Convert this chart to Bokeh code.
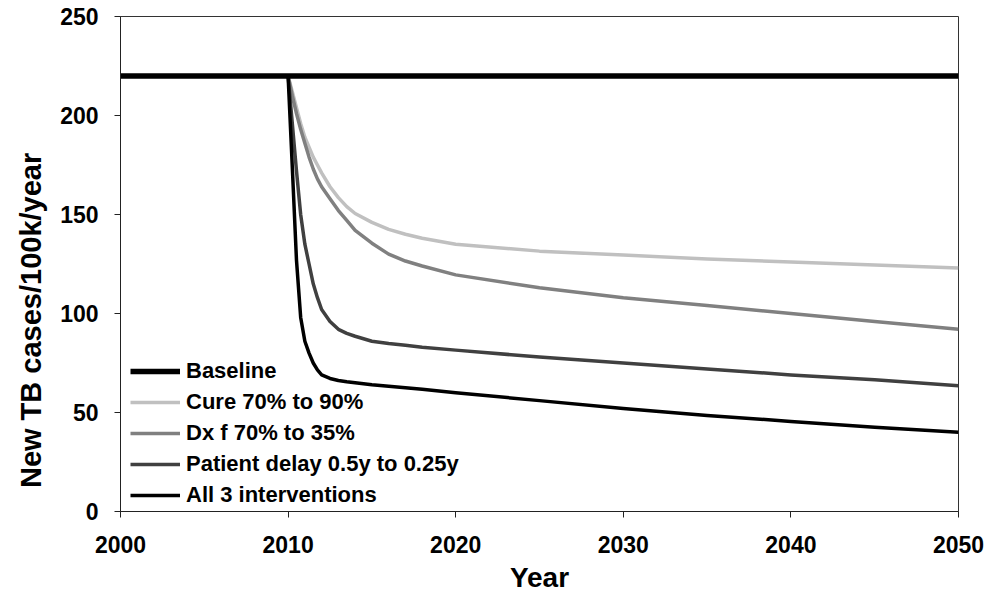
from bokeh.plotting import figure
from bokeh.models import Legend, LegendItem, FixedTicker, Range1d
from bokeh.embed import file_html
from bokeh.resources import INLINE

# Projected TB incidence (new cases per 100k per year) under each scenario
years = [2000, 2010, 2010.25, 2010.5, 2010.75, 2011, 2011.25, 2011.5, 2011.75, 2012,
         2012.5, 2013, 2013.5, 2014, 2015, 2016, 2017, 2018, 2020, 2025,
         2030, 2035, 2040, 2045, 2050]

baseline = [220] * len(years)
cure_70_to_90 = [220, 220, 212, 204, 196, 189, 184, 179, 175, 171,
                 164, 158.5, 154, 150.5, 146, 142.5, 140, 138, 135, 131.5,
                 129.5, 127.5, 126, 124.5, 123]
dx_70_to_35 = [220, 220, 210, 201, 193, 186, 179, 173, 168, 164,
               158, 152, 147, 142, 135.5, 130, 126.5, 124, 119.5, 113,
               108, 104, 100, 96, 92]
patient_delay = [220, 220, 196, 172, 150, 135, 125, 115, 108, 102,
                 96, 92, 90, 88.5, 86, 84.8, 84, 83, 81.5, 78,
                 75, 72, 69, 66.5, 63.5]
all_three = [220, 220, 174, 127, 98, 86, 80, 75, 71.5, 69,
             67.2, 66.2, 65.5, 65, 64, 63.3, 62.5, 61.7, 60, 56,
             52, 48.5, 45.5, 42.5, 40]

x_ticks = [2000, 2010, 2020, 2030, 2040, 2050]
y_ticks = [0, 50, 100, 150, 200, 250]

FONT = "Liberation Sans"

p = figure(width=998, height=597, output_backend="svg", toolbar_location=None,
           x_range=Range1d(2000, 2050), y_range=Range1d(0, 250),
           min_border_left=120, min_border_right=40,
           min_border_top=16, min_border_bottom=86)

p.xgrid.visible = False
p.ygrid.visible = False
p.outline_line_color = "#333333"
p.outline_line_width = 1
p.background_fill_color = "white"
p.border_fill_color = "white"

for ax in (p.xaxis[0], p.yaxis[0]):
    ax.axis_line_color = "#222222"
    ax.axis_line_width = 1
    ax.major_tick_line_color = "#222222"
    ax.major_tick_out = 6
    ax.major_tick_in = 0
    ax.minor_tick_out = 0
    ax.minor_tick_in = 0
    ax.major_label_text_font = FONT
    ax.major_label_text_font_style = "bold"
    ax.major_label_text_font_size = "23px"
    ax.major_label_text_color = "black"
    ax.axis_label_text_font = FONT
    ax.axis_label_text_font_style = "bold"
    ax.axis_label_text_color = "black"

p.xaxis.ticker = FixedTicker(ticks=x_ticks)
p.yaxis.ticker = FixedTicker(ticks=y_ticks)
p.xaxis.major_label_standoff = 18
p.yaxis.major_label_standoff = 16

p.xaxis.axis_label = "Year"
p.xaxis.axis_label_text_font_size = "28px"
p.xaxis.axis_label_standoff = 6

# trailing no-break spaces move the title toward the lower part of the axis
p.yaxis.axis_label = "New TB cases/100k/year" + "\u00a0" * 14
p.yaxis.axis_label_text_font_size = "29px"
p.yaxis.axis_label_standoff = 10

r_cure = p.line(years, cure_70_to_90, line_color="#c0c0c0", line_width=3.5, line_join="round")
r_dx = p.line(years, dx_70_to_35, line_color="#808080", line_width=3.5, line_join="round")
r_pat = p.line(years, patient_delay, line_color="#404040", line_width=3.5, line_join="round")
r_all = p.line(years, all_three, line_color="black", line_width=3.5, line_join="round")
r_base = p.line(years, baseline, line_color="black", line_width=5.5)

legend = Legend(items=[
    LegendItem(label="Baseline", renderers=[r_base]),
    LegendItem(label="Cure 70% to 90%", renderers=[r_cure]),
    LegendItem(label="Dx f 70% to 35%", renderers=[r_dx]),
    LegendItem(label="Patient delay 0.5y to 0.25y", renderers=[r_pat]),
    LegendItem(label="All 3 interventions", renderers=[r_all]),
])
legend.location = (10, 3)
legend.label_text_font = FONT
legend.label_text_font_style = "bold"
legend.label_text_font_size = "22px"
legend.label_text_color = "black"
legend.glyph_width = 50
legend.glyph_height = 24
legend.label_height = 24
legend.spacing = 5
legend.label_standoff = 6
legend.padding = 0
legend.margin = 0
legend.border_line_color = None
legend.background_fill_alpha = 0
p.add_layout(legend)

open("out.html", "w").write(file_html(p, INLINE))
